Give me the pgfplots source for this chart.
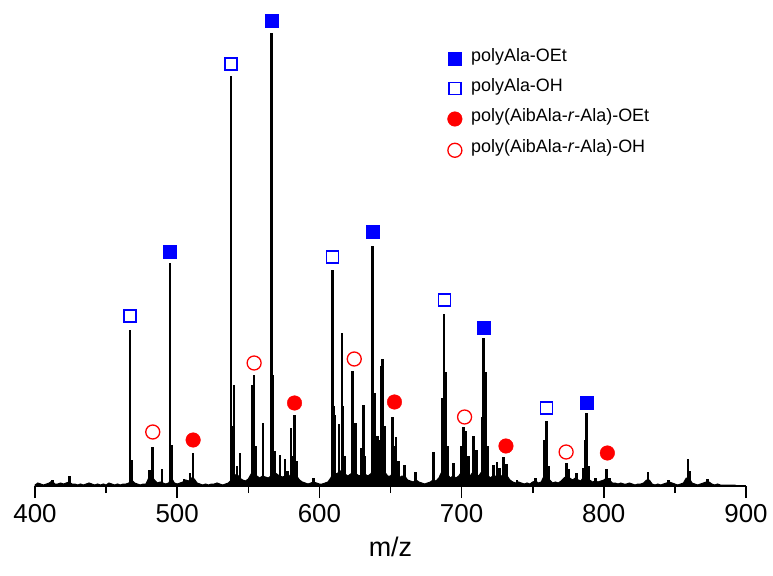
\documentclass[border=0pt]{standalone}
\usepackage{fontspec}
\setmainfont{Liberation Sans}
\usepackage{pgfplots}
\pgfplotsset{compat=1.18}
\usetikzlibrary{calc}

\definecolor{mblue}{RGB}{0,0,255}
\definecolor{mred}{RGB}{255,0,0}

\begin{document}
\begin{tikzpicture}
\begin{axis}[
    name=ax,
    scale only axis,
    width=711bp, height=486bp,
    xmin=400, xmax=900, ymin=0, ymax=486,
    axis x line*=bottom, axis y line=none,
    xtick={400,500,...,900},
    minor xtick={450,550,...,850},
    ytick=\empty,
    tick align=outside,
    major tick length=12bp,
    minor tick length=7bp,
    every tick/.style={black, line width=1.6bp},
    axis line style={black, line width=2bp},
    /pgf/number format/assume math mode=true,
    xticklabel style={font=\fontsize{26}{31}\selectfont, inner sep=0pt, yshift=-6bp},
    xlabel={m/z},
    xlabel style={font=\fontsize{27}{32}\selectfont, inner sep=0pt, yshift=-14bp},
    clip=false,
    legend cell align=left,
    legend style={draw=none, fill=none, at={(axis description cs:0.580,0.892)}, anchor=north west,
        font=\fontsize{18}{21}\selectfont, row sep=17bp, column sep=9bp, inner sep=0pt,
        nodes={inner sep=0bp, text height=0.75em, text depth=0.25em}},
    legend image code/.code={\draw[mark repeat=2,mark phase=2,#1] plot coordinates {(0bp,0bp)(7bp,0bp)(14bp,0bp)};},
]
\coordinate (o) at (rel axis cs:0,0);

% baseline noise and broad humps
\addplot[black, fill=black, line width=1bp, forget plot] coordinates {
(400,0)(400,1)(402,3)(404,2)(406,1)(408,2)(410,3)(412,5)(414,2)(416,2)(418,3)(420,2)(422,3)(424,4)(426,2)(428,2)(430,1)(432,2)(434,1)(436,2)(438,3)(440,2)(442,1)(444,2)(446,1)(448,2)(450,1)(452,3)(454,2)(456,1)(458,2)(460,1)(462,2)(464,2)(466,3)(468,6)(470,3)(472,2)(474,1)(476,2)(478,2)(480,8)(482,10)(484,6)(486,3)(488,4)(490,3)(492,2)(494,3)(496,8)(498,3)(500,2)(502,3)(504,4)(506,6)(508,5)(510,8)(512,7)(514,3)(516,2)(518,1)(520,2)(522,1)(524,2)(526,2)(528,3)(530,2)(532,1)(534,2)(536,3)(538,6)(540,10)(542,12)(544,8)(546,6)(548,5)(550,7)(552,12)(554,14)(556,10)(558,8)(560,10)(562,9)(564,8)(566,10)(568,14)(570,12)(572,10)(574,9)(576,10)(578,8)(580,12)(582,14)(584,10)(586,6)(588,4)(590,3)(592,2)(594,3)(596,4)(598,3)(600,2)(602,2)(604,3)(606,4)(608,8)(610,14)(612,12)(614,14)(616,16)(618,12)(620,10)(622,12)(624,14)(626,12)(628,10)(630,12)(632,12)(634,10)(636,12)(638,16)(640,14)(642,16)(644,18)(646,14)(648,10)(650,10)(652,14)(654,12)(656,8)(658,10)(660,10)(662,6)(664,5)(666,4)(668,6)(670,4)(672,3)(674,2)(676,3)(678,4)(680,6)(682,5)(684,8)(686,14)(688,16)(690,12)(692,8)(694,10)(696,8)(698,10)(700,14)(702,16)(704,14)(706,10)(708,14)(710,12)(712,10)(714,14)(716,18)(718,12)(720,8)(722,10)(724,10)(726,8)(728,10)(730,12)(732,10)(734,6)(736,4)(738,3)(740,4)(742,3)(744,2)(746,3)(748,2)(750,4)(752,5)(754,3)(756,4)(758,10)(760,12)(762,6)(764,3)(766,4)(768,3)(770,5)(772,8)(774,10)(776,8)(778,6)(780,8)(782,6)(784,5)(786,10)(788,12)(790,6)(792,4)(794,5)(796,4)(798,5)(800,6)(802,8)(804,6)(806,3)(808,3)(810,2)(812,3)(814,2)(816,2)(818,3)(820,2)(822,1)(824,2)(826,2)(828,3)(830,6)(832,6)(834,2)(836,1)(838,2)(840,1)(842,2)(844,3)(846,4)(848,3)(850,2)(852,1)(854,2)(856,3)(858,8)(860,8)(862,3)(864,2)(866,1)(868,2)(870,3)(872,4)(874,4)(876,2)(878,1)(880,2)(882,1)(884,1)(886,1)(888,1)(890,1)(892,1)(894,0)
};

% peaks
\addplot[ycomb, black, line width=2.6bp, mark=none, forget plot] coordinates {
(412.2,6)(424.1,10)
(466.9,156)(467.7,26)
(480.4,16)(482.8,39)(489.2,17)
(495.0,223)(495.8,41)
(504.9,7)(509.1,13)(511.2,33)
(537.9,410)(538.6,60)(540.0,101)(542.1,20)(544.3,33)
(552.5,101)(553.3,60)(554.1,111)(555.0,40)(560.2,63)
(566.3,453)(567.3,111)(568.9,35)(572.4,31)(575.9,27)(577.5,15)
(579.9,58)(580.6,30)(582.5,71)(583.7,25)
(595.8,8)
(609.2,216)(610.0,80)(610.9,71)(613.9,62)(615.8,153)(616.7,80)(617.5,30)
(623.3,115)(624.2,60)(625.2,63)(629.4,38)(631.0,81)(632.0,30)
(637.4,240)(638.6,93)(640.7,50)(642.3,46)(643.5,120)(644.4,127)(645.6,60)
(651.4,69)(652.2,40)(653.8,49)(655.5,25)(659.7,21)(667.4,14)
(680.3,34)(686.2,88)(687.6,172)(688.5,114)(689.9,40)(694.4,23)
(699.8,40)(701.4,59)(702.2,45)(703.1,55)(704.7,30)(708.4,50)(709.4,30)(710.3,36)
(714.3,69)(715.3,148)(716.9,114)(718.1,40)
(722.5,21)(724.9,24)(726.5,18)(729.6,29)(731.5,22)
(739.0,6)(751.9,8)
(758.4,46)(759.8,65)(761.0,20)
(773.9,23)(775.1,17)(780.7,13)(785.9,18)(787.0,46)(788.0,73)(789.2,20)
(794.1,8)(801.8,17)(804.0,8)
(831.2,14)(845.5,6)(859.1,27)(860.2,15)(873.1,7)
};

\addplot[only marks, mark=square*, mark size=6.5bp, color=mblue, mark options={mblue, fill=mblue}] coordinates {
(495.0,234)(566.3,465)(637.4,254)(715.3,158)(788.0,83)
};
\addlegendentry{polyAla-OEt}

\addplot[only marks, mark=square, mark size=6bp, color=mblue, mark options={draw=mblue, line width=1.3bp}] coordinates {
(466.9,170)(537.9,422)(609.2,229)(687.8,186)(759.8,78)
};
\addlegendentry{polyAla-OH}

\addplot[only marks, mark=*, mark size=7.3bp, color=mred, mark options={mred, fill=mred}] coordinates {
(511.2,46)(582.5,83)(652.8,84)(731.2,40)(802.5,33)
};
\addlegendentry{poly(AibAla-\textit{r}-Ala)-OEt}

\addplot[only marks, mark=o, mark size=7bp, color=mred, mark options={draw=mred, line width=1.3bp}] coordinates {
(482.8,54)(554.1,123)(624.5,127)(702.1,69)(773.5,34)
};
\addlegendentry{poly(AibAla-\textit{r}-Ala)-OH}

\end{axis}
\pgfresetboundingbox
\path[use as bounding box] ($(o)+(-35bp,-90bp)$) rectangle ($(o)+(738bp,486bp)$);
\end{tikzpicture}
\end{document}
